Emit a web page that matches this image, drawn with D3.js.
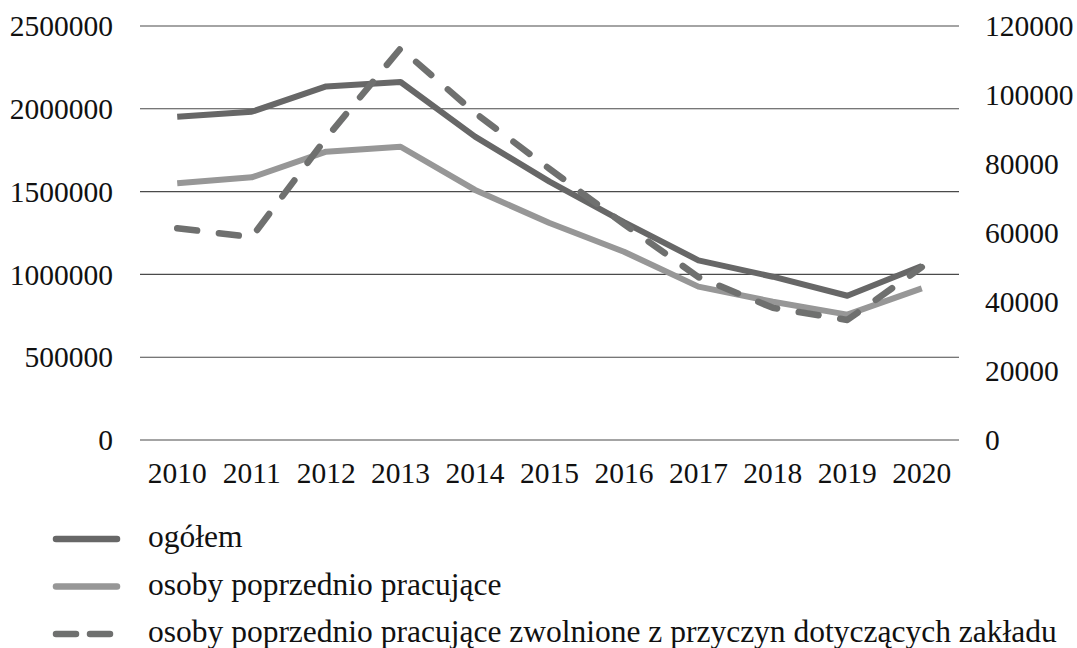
<!DOCTYPE html>
<html>
<head>
<meta charset="utf-8">
<script src="https://cdn.jsdelivr.net/npm/d3@7/dist/d3.min.js"></script>
<style>
  body { margin: 0; background: #fff; }
  text { font-family: "Liberation Serif", "Times New Roman", serif; fill: #111; }
</style>
</head>
<body>
<svg id="chart"></svg>
<script>
var years = ["2010","2011","2012","2013","2014","2015","2016","2017","2018","2019","2020"];
// left axis
var ogolem = [1952000, 1982000, 2135000, 2162000, 1832000, 1560000, 1316000, 1085000, 986000, 871000, 1051000];
var pracujace = [1550000, 1586000, 1741000, 1771000, 1510000, 1310000, 1137000, 926000, 835000, 757000, 916000];
// right axis
var zwolnione = [61400, 58800, 87500, 113500, 94800, 78600, 62600, 47200, 38300, 34800, 50100];

var leftTicks = [0, 500000, 1000000, 1500000, 2000000, 2500000];
var rightTicks = [0, 20000, 40000, 60000, 80000, 100000, 120000];
var legendNames = ["ogółem", "osoby poprzednio pracujące", "osoby poprzednio pracujące zwolnione z przyczyn dotyczących zakładu"];

var width = 1077;
var height = 648;

var svg = d3.select("#chart")
            .attr("width", width)
            .attr("height", height);

var xScale = d3.scaleBand()
               .domain(years)
               .range([140, 959]);

var yLeft = d3.scaleLinear()
              .domain([0, 2500000])
              .range([440, 26]);

var yRight = d3.scaleLinear()
               .domain([0, 120000])
               .range([440, 26]);

// gridlines
svg.selectAll("line.grid")
   .data(leftTicks)
   .enter()
   .append("line")
   .attr("class", "grid")
   .attr("x1", 140)
   .attr("x2", 959)
   .attr("y1", function(d){ return yLeft(d); })
   .attr("y2", function(d){ return yLeft(d); })
   .attr("stroke", "#4a4a4a")
   .attr("stroke-width", 1.1);

// left axis labels
var leftAxis = d3.axisLeft(yLeft).tickValues(leftTicks).tickSize(0).tickPadding(0).tickFormat(d3.format("d"));
var gl = svg.append("g").attr("transform", "translate(113,0)").call(leftAxis);
gl.select(".domain").remove();
gl.selectAll("text").attr("font-size", 29.5).attr("font-family", "Liberation Serif").attr("fill", "#111").attr("dy", "0.33em");

// right axis labels
var rightAxis = d3.axisRight(yRight).tickValues(rightTicks).tickSize(0).tickPadding(0).tickFormat(d3.format("d"));
var gr = svg.append("g").attr("transform", "translate(985,0)").call(rightAxis);
gr.select(".domain").remove();
gr.selectAll("text").attr("font-size", 29.5).attr("font-family", "Liberation Serif").attr("fill", "#111").attr("dy", "0.33em");

// x axis labels
var xAxis = d3.axisBottom(xScale).tickSize(0).tickPadding(0);
var gx = svg.append("g").attr("transform", "translate(0,483)").call(xAxis);
gx.select(".domain").remove();
gx.selectAll("text").attr("font-size", 29.5).attr("font-family", "Liberation Serif").attr("fill", "#111").attr("dy", 0).attr("y", 0);

var cx = function(d, i){ return xScale(years[i]) + xScale.bandwidth() / 2; };

var lineLeft = d3.line()
                 .x(cx)
                 .y(function(d){ return yLeft(d); });

var lineRight = d3.line()
                  .x(cx)
                  .y(function(d){ return yRight(d); });

svg.append("path")
   .datum(pracujace)
   .attr("d", lineLeft)
   .attr("fill", "none")
   .attr("stroke", "#979797")
   .attr("stroke-width", 6)
   .attr("stroke-linejoin", "round");

svg.append("path")
   .datum(ogolem)
   .attr("d", lineLeft)
   .attr("fill", "none")
   .attr("stroke", "#676767")
   .attr("stroke-width", 6)
   .attr("stroke-linejoin", "round");

svg.append("path")
   .datum(zwolnione)
   .attr("d", lineRight)
   .attr("fill", "none")
   .attr("stroke", "#6f706f")
   .attr("stroke-width", 6.5)
   .attr("stroke-linecap", "round")
   .attr("stroke-linejoin", "round")
   .attr("stroke-dasharray", "20,22");

// legend
var legendStyles = [
  {color: "#676767", dash: null},
  {color: "#979797", dash: null},
  {color: "#6f706f", dash: "20,14"}
];

var legend = svg.selectAll("g.legend")
                .data(legendNames)
                .enter()
                .append("g")
                .attr("class", "legend")
                .attr("transform", function(d, i){ return "translate(0," + (539 + i * 47.5) + ")"; });

legend.append("line")
      .attr("x1", 56)
      .attr("x2", 117)
      .attr("y1", 0)
      .attr("y2", 0)
      .attr("stroke", function(d, i){ return legendStyles[i].color; })
      .attr("stroke-width", 6.5)
      .attr("stroke-linecap", "round")
      .attr("stroke-dasharray", function(d, i){ return legendStyles[i].dash; });

legend.append("text")
      .attr("x", 148)
      .attr("y", 0)
      .attr("dy", "0.26em")
      .attr("font-size", 31.5)
      .text(function(d){ return d; });
</script>
</body>
</html>
